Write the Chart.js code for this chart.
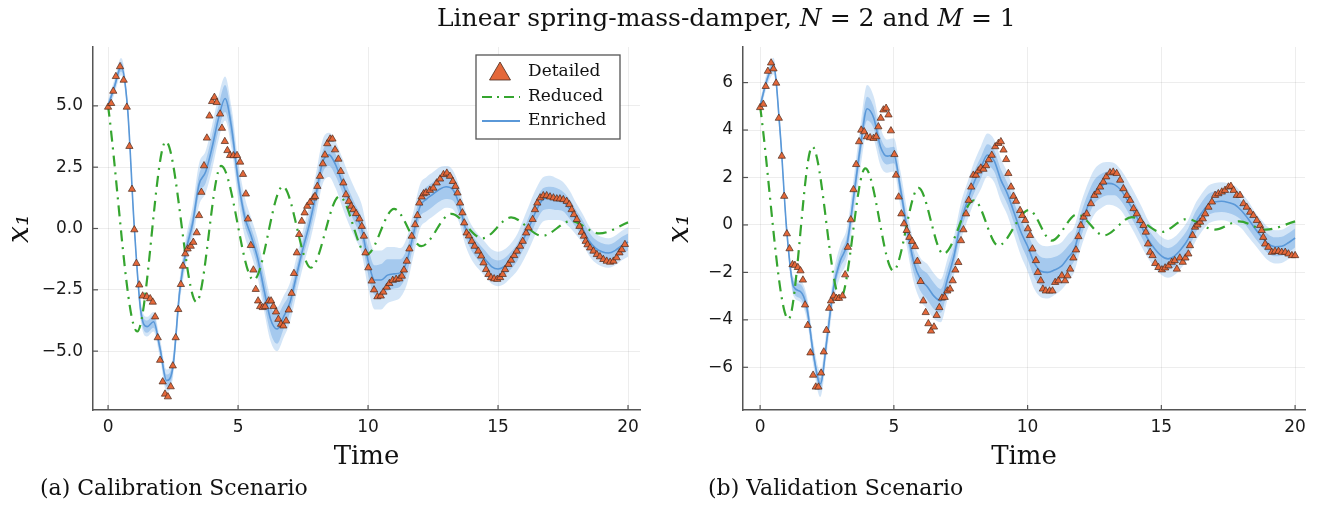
<!DOCTYPE html>
<html>
<head>
<meta charset="utf-8">
<script src="https://cdn.jsdelivr.net/npm/chart.js@4.4.1/dist/chart.umd.min.js"></script>
<style>
body { margin:0; background:#fff; }
#page { position:relative; width:1323px; height:506px; overflow:hidden; background:#fff; }
.serif { font-family:'DejaVu Serif', serif; color:#111; position:absolute; white-space:nowrap; }
#title { left:437px; top:3px; font-size:25px; }
#capA { left:40px; top:475px; font-size:22px; }
#capB { left:708px; top:475px; font-size:22px; }
canvas { position:absolute; top:0; }
</style>
</head>
<body>
<div id="page">
<canvas id="chartA" width="660" height="480" style="left:0"></canvas>
<canvas id="chartB" width="663" height="480" style="left:660px"></canvas>
<div id="title" class="serif">Linear spring-mass-damper, <i>N</i> = 2 and <i>M</i> = 1</div>
<div id="capA" class="serif">(a) Calibration Scenario</div>
<div id="capB" class="serif">(b) Validation Scenario</div>
</div>
<script>
// tick labels
const xTicks = [0, 5, 10, 15, 20];
const yTicksA = [-5, -2.5, 0, 2.5, 5];
const yTicksB = [-6, -4, -2, 0, 2, 4, 6];

// ---- (a) calibration scenario ----
// detailed model (triangles)
const detTimeA = [0,0.12,0.2,0.3,0.46,0.6,0.72,0.82,0.92,1.01,1.09,1.2,1.33,1.49,1.62,1.72,1.81,1.91,2.0,2.1,2.19,2.3,2.41,2.49,2.6,2.7,2.8,2.88,2.97,3.06,3.18,3.28,3.41,3.5,3.59,3.69,3.8,3.9,4.0,4.09,4.18,4.31,4.38,4.49,4.59,4.69,4.82,4.96,5.08,5.19,5.3,5.38,5.49,5.59,5.68,5.77,5.85,5.95,6.04,6.18,6.27,6.36,6.46,6.55,6.65,6.74,6.85,6.95,7.06,7.15,7.26,7.35,7.45,7.56,7.66,7.77,7.9,7.96,8.05,8.15,8.26,8.34,8.43,8.54,8.63,8.73,8.86,8.95,9.05,9.15,9.26,9.35,9.44,9.54,9.67,9.76,9.84,9.9,10.01,10.14,10.23,10.36,10.49,10.59,10.72,10.82,10.95,11.08,11.2,11.3,11.38,11.49,11.59,11.68,11.81,11.9,11.97,12.06,12.14,12.23,12.38,12.51,12.64,12.77,12.9,13.03,13.15,13.26,13.36,13.44,13.54,13.63,13.7,13.79,13.88,13.99,14.1,14.24,14.35,14.44,14.54,14.63,14.73,14.85,14.97,15.08,15.18,15.27,15.4,15.5,15.62,15.72,15.85,15.95,16.08,16.17,16.33,16.42,16.51,16.62,16.74,16.87,17.0,17.13,17.26,17.38,17.51,17.64,17.74,17.83,17.92,18.03,18.13,18.22,18.3,18.37,18.44,18.54,18.67,18.8,18.92,19.05,19.18,19.31,19.44,19.56,19.67,19.76,19.88];
const detValA = [4.95,5.1,5.6,6.2,6.6,6.05,4.95,3.35,1.6,-0.05,-1.42,-2.3,-2.75,-2.78,-2.86,-3.0,-3.6,-4.45,-5.37,-6.25,-6.75,-6.86,-6.45,-5.6,-4.45,-3.3,-2.28,-1.53,-1.03,-0.83,-0.72,-0.56,-0.17,0.53,1.48,2.56,3.69,4.59,5.18,5.35,5.14,4.67,4.09,3.55,3.18,2.98,2.97,2.98,2.71,2.21,1.41,0.39,-0.69,-1.69,-2.48,-2.95,-3.18,-3.22,-3.18,-2.95,-2.95,-3.18,-3.4,-3.7,-3.9,-3.97,-3.77,-3.32,-2.64,-1.83,-0.99,-0.24,0.3,0.64,0.91,1.07,1.25,1.31,1.72,2.13,2.64,3.0,3.46,3.65,3.65,3.21,2.83,2.33,1.86,1.38,1.11,0.91,0.77,0.61,0.39,0.09,-0.31,-0.99,-1.6,-2.14,-2.5,-2.78,-2.75,-2.59,-2.39,-2.24,-2.11,-2.07,-2.05,-1.94,-1.69,-1.33,-0.83,-0.31,0.16,0.53,1.04,1.29,1.42,1.46,1.56,1.65,1.86,2.02,2.2,2.26,2.13,1.92,1.72,1.45,1.04,0.64,0.23,-0.18,-0.3,-0.52,-0.72,-0.92,-1.12,-1.4,-1.67,-1.87,-2.0,-2.05,-2.07,-2.0,-1.87,-1.67,-1.46,-1.29,-1.1,-0.92,-0.72,-0.52,-0.18,0.03,0.37,0.77,1.04,1.25,1.34,1.34,1.29,1.25,1.21,1.21,1.18,1.11,0.98,0.77,0.57,0.37,0.09,-0.15,-0.31,-0.52,-0.66,-0.79,-0.92,-1.06,-1.15,-1.26,-1.33,-1.37,-1.33,-1.19,-0.99,-0.86,-0.65];
// reduced model, turning points of the dash-dot curve
const redTimeA = [0,1.12,2.22,3.4,4.35,5.6,6.72,7.8,8.9,9.95,11.0,12.05,13.2,14.4,15.5,16.7,17.8,18.9,20];
const redValA = [5.0,-4.2,3.55,-3.0,2.55,-2.1,1.72,-1.6,1.31,-1.06,0.8,-0.72,0.6,-0.4,0.45,-0.3,0.3,-0.2,0.25];

// enriched model: mean and half widths of the two bands
const enrTime = [0,0.25,0.5,0.75,1,1.25,1.5,1.75,2,2.25,2.5,2.75,3,3.25,3.5,3.75,4,4.25,4.5,4.75,5,5.25,5.5,5.75,6,6.25,6.5,6.75,7,7.25,7.5,7.75,8,8.25,8.5,8.75,9,9.25,9.5,9.75,10,10.25,10.5,10.75,11,11.25,11.5,11.75,12,12.25,12.5,12.75,13,13.25,13.5,13.75,14,14.25,14.5,14.75,15,15.25,15.5,15.75,16,16.25,16.5,16.75,17,17.25,17.5,17.75,18,18.25,18.5,18.75,19,19.25,19.5,19.75,20];
const enrMeanA = [5.0,5.8,6.6,4.9,0.2,-3.3,-4.0,-3.8,-4.9,-6.2,-5.6,-2.6,-0.9,0.2,1.8,2.3,3.3,4.5,5.3,4.1,2.0,0.5,-0.3,-1.2,-2.5,-3.7,-4.1,-3.6,-3.0,-1.9,-0.8,0.2,1.4,2.7,3.0,2.6,1.9,1.2,0.6,0.0,-1.3,-2.1,-2.1,-1.9,-1.85,-1.8,-1.3,-0.2,0.9,1.2,1.4,1.6,1.7,1.6,1.0,0.0,-0.6,-0.95,-1.25,-1.55,-1.65,-1.55,-1.3,-0.95,-0.4,0.2,0.8,1.2,1.25,1.2,1.1,0.8,0.4,0.0,-0.5,-0.8,-0.95,-1.0,-0.9,-0.7,-0.55];
const enrInnerA = [0.15,0.15,0.2,0.2,0.2,0.2,0.25,0.25,0.2,0.25,0.25,0.3,0.3,0.35,0.4,0.45,0.5,0.5,0.55,0.5,0.4,0.35,0.35,0.4,0.5,0.55,0.6,0.5,0.4,0.35,0.35,0.4,0.45,0.45,0.45,0.45,0.4,0.4,0.4,0.45,0.55,0.6,0.65,0.65,0.6,0.55,0.5,0.45,0.45,0.5,0.5,0.5,0.5,0.45,0.4,0.35,0.35,0.35,0.35,0.35,0.35,0.35,0.35,0.35,0.4,0.45,0.45,0.45,0.45,0.45,0.4,0.4,0.35,0.35,0.35,0.35,0.35,0.35,0.35,0.35,0.35];
const enrOuterA = [0.25,0.3,0.35,0.35,0.35,0.4,0.4,0.4,0.4,0.45,0.45,0.5,0.55,0.7,0.85,0.85,0.9,0.9,0.9,0.85,0.8,0.8,0.75,0.8,0.85,0.9,0.9,0.85,0.8,0.75,0.75,0.8,0.85,0.9,0.9,0.95,1.0,1.0,1.0,1.0,1.1,1.2,1.2,1.15,1.1,1.0,0.95,0.9,0.9,0.9,0.9,0.9,0.85,0.8,0.75,0.7,0.7,0.7,0.7,0.7,0.7,0.7,0.7,0.75,0.85,0.9,0.9,0.9,0.9,0.85,0.8,0.75,0.65,0.6,0.6,0.6,0.6,0.6,0.6,0.6,0.6];

// ---- (b) validation scenario ----
const detTimeB = [0,0.12,0.21,0.29,0.41,0.5,0.6,0.7,0.81,0.9,1.0,1.1,1.21,1.3,1.41,1.51,1.6,1.68,1.78,1.88,1.98,2.08,2.18,2.28,2.38,2.48,2.58,2.65,2.75,2.85,2.95,3.08,3.18,3.28,3.39,3.49,3.59,3.7,3.78,3.89,3.99,4.11,4.24,4.34,4.42,4.51,4.61,4.71,4.8,4.89,5.02,5.08,5.18,5.28,5.38,5.48,5.58,5.68,5.79,5.88,6.0,6.1,6.19,6.29,6.39,6.5,6.6,6.7,6.8,6.9,7.0,7.1,7.2,7.3,7.41,7.51,7.6,7.7,7.8,7.89,7.97,8.07,8.16,8.25,8.35,8.45,8.55,8.66,8.79,8.91,9.0,9.1,9.2,9.28,9.38,9.47,9.57,9.72,9.8,9.91,10.01,10.09,10.18,10.31,10.38,10.49,10.57,10.68,10.82,10.93,11.03,11.15,11.28,11.4,11.49,11.59,11.71,11.81,11.9,11.99,12.09,12.21,12.37,12.5,12.62,12.71,12.83,12.94,13.08,13.2,13.33,13.46,13.58,13.71,13.83,13.96,14.08,14.21,14.33,14.42,14.5,14.58,14.67,14.77,14.89,15.02,15.14,15.27,15.39,15.5,15.58,15.69,15.8,15.9,16.01,16.07,16.17,16.26,16.35,16.45,16.55,16.64,16.76,16.89,17.01,17.13,17.26,17.38,17.51,17.6,17.7,17.82,17.94,18.07,18.19,18.32,18.44,18.57,18.69,18.75,18.81,18.88,19.0,19.13,19.25,19.38,19.5,19.63,19.75,19.88,20.0];
const detValB = [4.95,5.09,5.84,6.48,6.83,6.58,5.98,4.5,2.9,1.21,-0.37,-1.0,-1.67,-1.7,-1.79,-1.93,-2.32,-3.37,-4.23,-5.39,-6.33,-6.83,-6.83,-6.24,-5.35,-4.44,-3.51,-3.2,-2.99,-3.09,-3.09,-2.99,-2.1,-0.94,0.22,1.49,2.55,3.51,4.0,3.93,3.72,3.68,3.65,3.72,4.14,4.5,4.85,4.92,4.64,3.97,2.97,2.1,1.18,0.47,0.05,-0.23,-0.52,-0.69,-0.91,-1.53,-2.38,-3.2,-3.69,-4.16,-4.47,-4.3,-3.81,-3.48,-3.08,-3.05,-2.78,-2.7,-2.35,-1.9,-1.58,-0.66,-0.2,0.47,1.04,1.6,2.1,2.1,2.28,2.4,2.35,2.5,2.75,2.94,3.3,3.44,3.51,3.16,2.76,2.17,1.6,1.21,1.0,0.61,0.4,0.19,-0.16,-0.44,-1.01,-1.5,-2.0,-2.35,-2.7,-2.78,-2.78,-2.78,-2.42,-2.35,-2.14,-2.35,-2.14,-1.86,-1.39,-1.05,-0.49,-0.02,0.33,0.47,0.9,1.25,1.39,1.6,1.81,2.03,2.2,2.23,2.17,1.89,1.53,1.25,1.04,0.69,0.47,0.19,-0.02,-0.3,-0.8,-1.15,-1.29,-1.62,-1.79,-1.89,-1.81,-1.72,-1.57,-1.5,-1.86,-1.39,-1.57,-1.39,-1.22,-0.87,-0.44,-0.09,0.0,0.12,0.26,0.47,0.75,0.97,1.25,1.32,1.39,1.46,1.6,1.63,1.46,1.25,1.25,0.9,0.75,0.54,0.4,0.19,-0.02,-0.23,-0.52,-0.8,-0.94,-1.15,-1.11,-1.11,-1.15,-1.15,-1.22,-1.29,-1.29];
const redTimeB = [0,1.06,1.95,3.0,3.93,4.98,5.92,6.85,8.0,8.9,10.05,10.9,11.85,12.85,13.9,15.0,15.95,17.0,17.9,18.9,20];
const redValB = [5.0,-3.97,3.3,-3.1,2.38,-1.93,1.56,-1.22,1.04,-0.87,0.63,-0.66,0.45,-0.44,0.33,-0.3,0.25,-0.2,0.15,-0.2,0.15];
const enrMeanB = [5.0,6.1,6.7,3.9,-0.3,-2.6,-2.8,-3.5,-5.5,-6.7,-4.8,-2.6,-1.5,-0.8,1.2,3.3,4.9,4.5,3.3,2.9,2.95,1.5,-0.2,-1.6,-2.3,-2.6,-3.0,-3.2,-2.3,-1.3,0.1,1.0,1.8,2.4,2.95,2.7,1.9,1.3,0.5,-0.3,-0.9,-1.6,-1.95,-2.0,-1.9,-1.75,-1.4,-1.0,0.0,0.8,1.4,1.65,1.75,1.7,1.45,1.0,0.5,-0.05,-0.6,-1.0,-1.3,-1.43,-1.3,-1.0,-0.6,0.05,0.5,0.85,0.97,1.0,0.95,0.85,0.6,0.25,-0.15,-0.5,-0.8,-0.92,-0.9,-0.75,-0.55];
const enrInnerB = [0.15,0.15,0.2,0.2,0.2,0.25,0.3,0.3,0.25,0.25,0.25,0.3,0.3,0.35,0.4,0.45,0.5,0.45,0.4,0.35,0.35,0.35,0.4,0.45,0.5,0.55,0.55,0.5,0.45,0.4,0.4,0.4,0.45,0.45,0.45,0.45,0.45,0.45,0.45,0.5,0.55,0.6,0.6,0.6,0.55,0.55,0.5,0.5,0.5,0.5,0.5,0.5,0.5,0.45,0.45,0.45,0.45,0.45,0.45,0.45,0.45,0.45,0.45,0.45,0.45,0.45,0.45,0.45,0.45,0.45,0.45,0.45,0.4,0.4,0.4,0.4,0.4,0.4,0.4,0.4,0.4];
const enrOuterB = [0.25,0.3,0.35,0.35,0.35,0.4,0.45,0.5,0.5,0.55,0.55,0.6,0.65,0.7,0.8,0.9,1.0,0.9,0.8,0.7,0.7,0.75,0.8,0.85,0.9,0.95,0.95,0.9,0.85,0.8,0.8,0.8,0.85,0.9,0.9,0.9,0.9,0.9,0.95,1.0,1.05,1.1,1.1,1.1,1.05,1.0,1.0,0.95,0.95,0.95,0.95,0.95,0.9,0.9,0.85,0.85,0.85,0.85,0.8,0.8,0.8,0.8,0.8,0.8,0.8,0.8,0.8,0.8,0.8,0.8,0.8,0.8,0.75,0.75,0.7,0.7,0.7,0.7,0.7,0.7,0.7];

const orange = '#e4683a';
const darkEdge = '#4a2a1c';
const green = '#35a52f';
const blue = '#5a98d8';

function toPts(xs, ys) {
  return xs.map((x, i) => ({x: x, y: ys[i]}));
}
function bandPts(mean, w, sign) {
  return enrTime.map((t, i) => ({x: t, y: mean[i] + sign * w[i]}));
}
const uminus = s => String(s).replace('-', '\u2212');

// small tick marks pointing into the plot
const inwardTicks = {
  id: 'inwardTicks',
  afterDraw(chart) {
    const {ctx, chartArea, scales} = chart;
    ctx.save();
    ctx.strokeStyle = '#555';
    ctx.lineWidth = 1.2;
    scales.x.ticks.forEach(t => {
      const px = scales.x.getPixelForValue(t.value);
      ctx.beginPath();
      ctx.moveTo(px, chartArea.bottom);
      ctx.lineTo(px, chartArea.bottom - 5);
      ctx.stroke();
    });
    scales.y.ticks.forEach(t => {
      const py = scales.y.getPixelForValue(t.value);
      ctx.beginPath();
      ctx.moveTo(chartArea.left, py);
      ctx.lineTo(chartArea.left + 5, py);
      ctx.stroke();
    });
    ctx.restore();
  }
};

// boxed legend inside the left panel
const legendBox = {
  id: 'legendBox',
  afterDraw(chart) {
    const ctx = chart.ctx;
    const x0 = 476, y0 = 55, w = 144, h = 84;
    ctx.save();
    ctx.fillStyle = '#fff';
    ctx.fillRect(x0, y0, w, h);
    ctx.strokeStyle = '#555';
    ctx.lineWidth = 1.3;
    ctx.strokeRect(x0, y0, w, h);

    ctx.beginPath();
    ctx.moveTo(500, 62);
    ctx.lineTo(510.5, 80);
    ctx.lineTo(489.5, 80);
    ctx.closePath();
    ctx.fillStyle = orange;
    ctx.fill();
    ctx.strokeStyle = darkEdge;
    ctx.lineWidth = 0.8;
    ctx.stroke();

    ctx.strokeStyle = green;
    ctx.lineWidth = 2.2;
    ctx.setLineDash([10, 5, 2, 5]);
    ctx.beginPath();
    ctx.moveTo(482, 97);
    ctx.lineTo(520, 97);
    ctx.stroke();

    ctx.setLineDash([]);
    ctx.strokeStyle = blue;
    ctx.lineWidth = 1.8;
    ctx.beginPath();
    ctx.moveTo(482, 121);
    ctx.lineTo(520, 121);
    ctx.stroke();

    ctx.fillStyle = '#111';
    ctx.font = '17px "DejaVu Serif"';
    ctx.textBaseline = 'middle';
    ctx.fillText('Detailed', 528, 72);
    ctx.fillText('Reduced', 528, 97);
    ctx.fillText('Enriched', 528, 121);
    ctx.restore();
  }
};

function makeChart(id, o) {
  const noLine = 'rgba(0,0,0,0)';
  return new Chart(document.getElementById(id), {
    type: 'line',
    data: {
      datasets: [
        { label: 'Detailed', data: toPts(o.detT, o.detV), showLine: false, pointStyle: 'triangle',
          pointRadius: 4.2, pointBackgroundColor: orange, pointBorderColor: darkEdge, pointBorderWidth: 0.7, order: 0 },
        { label: 'Reduced', data: toPts(o.redT, o.redV), borderColor: green, borderWidth: 2.2,
          borderDash: [11, 6, 2, 6], pointRadius: 0, cubicInterpolationMode: 'monotone', fill: false, order: 1 },
        { label: 'Enriched', data: toPts(enrTime, o.enr), borderColor: blue, borderWidth: 1.6,
          pointRadius: 0, cubicInterpolationMode: 'monotone', fill: false, order: 2 },
        { data: bandPts(o.enr, o.inner, -1), borderColor: noLine, borderWidth: 0, pointRadius: 0,
          cubicInterpolationMode: 'monotone', fill: false, order: 3 },
        { data: bandPts(o.enr, o.inner, 1), borderColor: noLine, borderWidth: 0, pointRadius: 0,
          cubicInterpolationMode: 'monotone', fill: 3, backgroundColor: 'rgba(80,150,220,0.35)', order: 3 },
        { data: bandPts(o.enr, o.outer, -1), borderColor: noLine, borderWidth: 0, pointRadius: 0,
          cubicInterpolationMode: 'monotone', fill: false, order: 4 },
        { data: bandPts(o.enr, o.outer, 1), borderColor: noLine, borderWidth: 0, pointRadius: 0,
          cubicInterpolationMode: 'monotone', fill: 5, backgroundColor: 'rgba(110,170,230,0.3)', order: 4 }
      ]
    },
    options: {
      animation: false,
      responsive: false,
      layout: { padding: { left: 0, right: o.padRight, top: 47, bottom: 5 } },
      plugins: { legend: { display: false }, tooltip: { enabled: false } },
      scales: {
        x: {
          type: 'linear', min: o.xMin, max: o.xMax,
          afterBuildTicks: s => { s.ticks = xTicks.map(v => ({value: v})); },
          afterFit: s => { s.height = 65; },
          grid: { color: 'rgba(0,0,0,0.07)', drawTicks: false },
          border: { color: '#555', width: 1.5 },
          ticks: { padding: 7, color: '#1a1a1a', maxRotation: 0, font: { family: 'DejaVu Sans', size: 17 } },
          title: { display: true, text: 'Time', color: '#111', font: { family: 'DejaVu Serif', size: 26 },
                   padding: { top: 0, bottom: 2 } }
        },
        y: {
          type: 'linear', min: o.yMin, max: o.yMax,
          afterBuildTicks: s => { s.ticks = o.yTicks.map(v => ({value: v})); },
          afterFit: s => { s.width = o.yWidth; },
          grid: { color: 'rgba(0,0,0,0.07)', drawTicks: false },
          border: { color: '#555', width: 1.5 },
          ticks: { padding: 10, color: '#1a1a1a', font: { family: 'DejaVu Sans', size: 17 },
                   callback: v => uminus(o.fmt(v)) },
          title: { display: true, text: 'x\u2081', color: '#111', padding: { top: 2, bottom: 2 },
                   font: { family: 'DejaVu Serif', size: 30, style: 'italic' } }
        }
      }
    },
    plugins: o.legend ? [inwardTicks, legendBox] : [inwardTicks]
  });
}

makeChart('chartA', {
  detT: detTimeA, detV: detValA, redT: redTimeA, redV: redValA,
  enr: enrMeanA, inner: enrInnerA, outer: enrOuterA,
  xMin: -0.58, xMax: 20.46, yMin: -7.4, yMax: 7.4, yTicks: yTicksA,
  fmt: v => v.toFixed(1), yWidth: 93, padRight: 20, legend: true
});
makeChart('chartB', {
  detT: detTimeB, detV: detValB, redT: redTimeB, redV: redValB,
  enr: enrMeanB, inner: enrInnerB, outer: enrOuterB,
  xMin: -0.64, xMax: 20.37, yMin: -7.8, yMax: 7.5, yTicks: yTicksB,
  fmt: v => String(v), yWidth: 83, padRight: 18, legend: false
});
</script>
</body>
</html>
